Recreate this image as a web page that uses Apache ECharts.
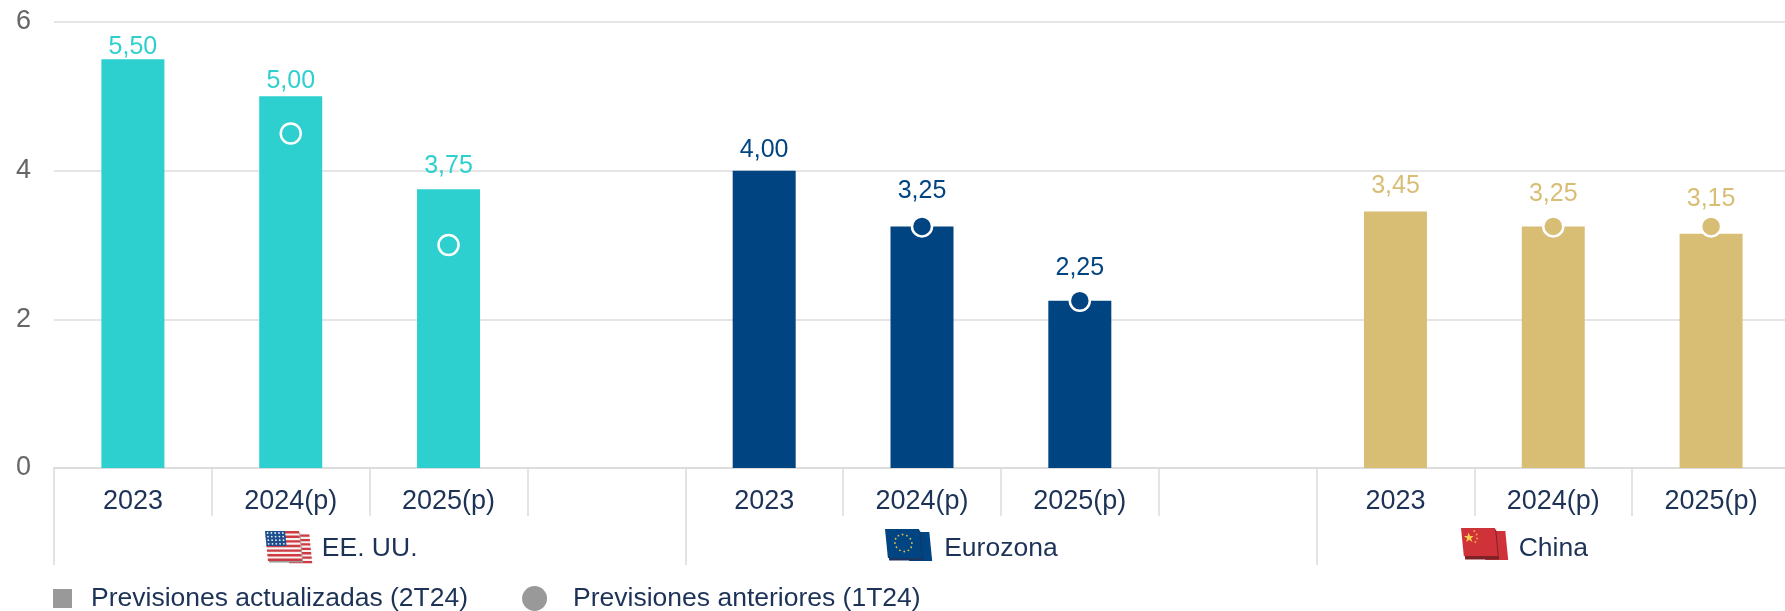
<!DOCTYPE html>
<html>
<head>
<meta charset="utf-8">
<style>html,body{margin:0;padding:0;background:#fff;overflow:hidden}#chart{width:1785px;height:611px}</style>
<script src="https://cdn.jsdelivr.net/npm/echarts@6/dist/echarts.min.js"></script>
</head>
<body>
<div id="chart"></div>
<script>
const categories = ['2023','2024(p)','2025(p)','','2023','2024(p)','2025(p)','','2023','2024(p)','2025(p)'];
const updated = [5.50,5.00,3.75,null,4.00,3.25,2.25,null,3.45,3.25,3.15];
const previous = [null,4.50,3.00,null,null,3.25,2.25,null,null,3.25,3.25];
const groups = ['EE. UU.','Eurozona','China'];
const groupStarts = [0,4,8];
const groupCentres = [2,6,9.5];
const yTicks = [0,2,4,6];
const pointColours = ['#2dcfcf','#2dcfcf','#2dcfcf',null,'#004481','#004481','#004481',null,'#d8be75','#d8be75','#d8be75'];
const labelGaps = [0,3,11,null,8,23,20,null,13,20,22];
const names = ['Previsiones actualizadas (2T24)','Previsiones anteriores (1T24)'];

const TEXT = '#1c3257', FONT = '"Liberation Sans", Arial, sans-serif', GRID = '#dcdcdc';

function flag(back, front, shadow) {
  const skew = 'transform="matrix(1 0 0.1 1 0 0)"';
  const svg = `<svg xmlns="http://www.w3.org/2000/svg" width="48" height="33" viewBox="0 0 48 33">` +
    `<g ${skew}>${back}<rect x="1" y="1.5" width="34" height="30" fill="${shadow}"/>${front}</g></svg>`;
  return 'data:image/svg+xml;charset=utf-8,' + encodeURIComponent(svg);
}
let usBack = '<rect x="21" y="3" width="23" height="29" fill="#f4f0f0"/>';
for (let i = 0; i < 7; i++) usBack += `<rect x="21" y="${3.5+i*4.4}" width="23" height="2.3" fill="#cf3a42"/>`;
let usFront = '<rect width="34" height="30" fill="#f6f2f2"/>';
for (let i = 0; i < 7; i++) usFront += `<rect y="${i*4.6}" width="34" height="2.4" fill="#cf3a42"/>`;
usFront += '<rect width="20" height="15" fill="#1d4f8f"/>';
for (let r = 0; r < 4; r++) for (let c = 0; c < 5; c++) usFront += `<circle cx="${2.4+c*3.8}" cy="${2+r*3.6}" r="0.9" fill="#e8eef6"/>`;
const usFlag = flag(usBack, usFront, '#9a9a9a');
let euStars = '';
for (let i = 0; i < 12; i++) { const a = i*Math.PI/6; euStars += `<circle cx="${17+8.5*Math.cos(a)}" cy="${14+8.5*Math.sin(a)}" r="0.9" fill="#e2c14a"/>`; }
const euFlag = flag('<rect x="21" y="3" width="23" height="29" fill="#004481"/>', '<rect width="34" height="29" fill="#004481"/>' + euStars, '#1b3560');
const cnFlag = flag('<rect x="21" y="3" width="23" height="29" fill="#cf3339"/>',
  '<rect width="34" height="28" fill="#cf3339"/>' +
  '<polygon points="7,4.5 8.3,8.1 12,8.1 9,10.3 10.1,13.9 7,11.7 3.9,13.9 5,10.3 2,8.1 5.7,8.1" fill="#f2cf4a"/>' +
  '<circle cx="13" cy="3" r="0.9" fill="#f2b03c"/><circle cx="15" cy="6.5" r="0.9" fill="#f2b03c"/><circle cx="15" cy="10.5" r="0.9" fill="#f2b03c"/><circle cx="13" cy="14" r="0.9" fill="#f2b03c"/>', '#7d2328');

const chart = echarts.init(document.getElementById('chart'), null, {renderer:'canvas'});
chart.setOption({
  animation:false,
  backgroundColor:'#fff',
  grid:{left:54,width:1736,top:22,height:446,containLabel:false,outerBoundsMode:'none'},
  legend:{
    left:50,top:585,itemWidth:25,itemHeight:25,itemGap:54,padding:0,
    textStyle:{color:TEXT,fontFamily:FONT,fontSize:26.5},
    data:[
      {name:names[0],icon:'path://M0 0M25 25M3 3H22V22H3Z',itemStyle:{color:'#999999',opacity:1,borderWidth:0},textStyle:{padding:[0,0,0,11]}},
      {name:names[1],icon:'circle',itemStyle:{color:'#999999',opacity:1,borderWidth:0},textStyle:{padding:[0,0,0,21]}}
    ]
  },
  xAxis:[
    {type:'category',data:categories,position:'bottom',
     axisLine:{lineStyle:{color:GRID,width:2}},
     axisTick:{show:true,alignWithLabel:false,interval:0,length:48,lineStyle:{color:GRID,width:1.5}},
     axisLabel:{interval:0,color:TEXT,fontFamily:FONT,fontSize:27,margin:20,lineHeight:28},
     splitLine:{show:false}},
    {type:'value',position:'bottom',min:0,max:11,
     axisLine:{show:false},
     axisTick:{show:true,customValues:groupStarts,length:97,lineStyle:{color:GRID,width:1.5}},
     axisLabel:{customValues:groupCentres,color:TEXT,fontFamily:FONT,fontSize:26.5,margin:67,lineHeight:28,
       formatter:v=>groups[groupCentres.indexOf(v)]},
     splitLine:{show:false}}
  ],
  yAxis:{type:'value',min:0,max:6,interval:2,
    axisLine:{show:false},axisTick:{show:false},
    axisLabel:{color:'#666666',fontFamily:FONT,fontSize:27,margin:23,padding:[3,0,0,0],
      customValues:yTicks},
    splitLine:{lineStyle:{color:GRID,width:1.5}}},
  series:[
    {name:names[0],type:'bar',xAxisIndex:0,barWidth:63,z:2,
     itemStyle:{color:'#999999'},
     data:updated.map((v,i)=>v==null?{value:null}:{value:v,
       itemStyle:{color:pointColours[i]},
       label:{show:true,position:'top',distance:labelGaps[i],color:pointColours[i],fontFamily:FONT,fontSize:25,
         formatter:()=>v.toFixed(2).replace('.',',')}})},
    {name:names[1],type:'scatter',xAxisIndex:0,symbol:'circle',symbolSize:20,z:3,
     itemStyle:{color:'#999999',opacity:1},
     data:previous.map((v,i)=>v==null?{value:null}:{value:v,
       itemStyle:{color:pointColours[i],borderColor:'#ffffff',borderWidth:2.5,opacity:1}})}
  ],
  graphic:[
    {type:'image',left:265,top:531,style:{image:usFlag,width:48,height:33},silent:true},
    {type:'image',left:885,top:529,style:{image:euFlag,width:48,height:33},silent:true},
    {type:'image',left:1461,top:528,style:{image:cnFlag,width:48,height:33},silent:true}
  ]
});
</script>
</body>
</html>
